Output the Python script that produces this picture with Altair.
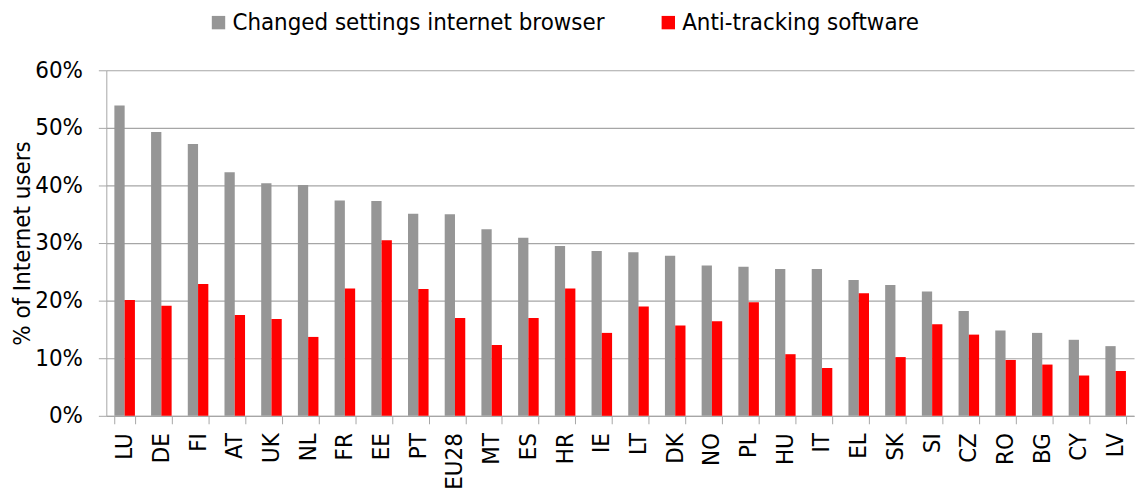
import altair as alt
import pandas as pd

countries = ["LU", "DE", "FI", "AT", "UK", "NL", "FR", "EE", "PT", "EU28", "MT", "ES", "HR", "IE",
             "LT", "DK", "NO", "PL", "HU", "IT", "EL", "SK", "SI", "CZ", "RO", "BG", "CY", "LV"]
changed_settings = [53.9, 49.3, 47.2, 42.3, 40.4, 40.1, 37.4, 37.3, 35.1, 35.0, 32.4, 30.9, 29.5, 28.6,
                    28.4, 27.8, 26.1, 25.9, 25.5, 25.5, 23.6, 22.7, 21.6, 18.2, 14.8, 14.4, 13.2, 12.1]
anti_tracking = [20.1, 19.1, 22.9, 17.5, 16.8, 13.7, 22.1, 30.5, 22.0, 17.0, 12.3, 17.0, 22.1, 14.4,
                 19.0, 15.7, 16.4, 19.7, 10.7, 8.3, 21.3, 10.2, 15.9, 14.1, 9.7, 8.9, 7.0, 7.8]
series = ["Changed settings internet browser", "Anti-tracking software"]
colors = ["#969696", "#ff0000"]
y_ticks = [0, 10, 20, 30, 40, 50, 60]

rows = []
for c, a, b in zip(countries, changed_settings, anti_tracking):
    rows.append({"country": c, "series": series[0], "value": a})
    rows.append({"country": c, "series": series[1], "value": b})
df = pd.DataFrame(rows)

FONT = "Liberation Sans Narrow, DejaVu Sans Condensed, Arial Narrow, sans-serif"
GRID = "#a6a6a6"

chart = alt.Chart(df).mark_bar().encode(
    x=alt.X("country:N", sort=countries,
            scale=alt.Scale(paddingInner=0.44, paddingOuter=0.22),
            axis=alt.Axis(title=None, labelAngle=-90, labelFontSize=24, labelFont=FONT,
                          labelColor="black", labelPadding=9, tickSize=8, tickBand="extent",
                          tickColor=GRID, domainColor=GRID, grid=False)),
    xOffset=alt.XOffset("series:N", sort=series),
    y=alt.Y("value:Q", scale=alt.Scale(domain=[0, 60], nice=False),
            axis=alt.Axis(values=y_ticks, labelExpr="datum.value + '%'", title="% of Internet users",
                          titleFontSize=24, titleFont=FONT, titleFontWeight="normal", titleColor="black",
                          titlePadding=0, labelFontSize=24, labelFont=FONT, labelColor="black",
                          labelPadding=16, tickSize=8, tickColor=GRID, domainColor=GRID,
                          gridColor=GRID, gridWidth=1.2)),
    color=alt.Color("series:N", sort=series,
                    scale=alt.Scale(domain=series, range=colors),
                    legend=alt.Legend(title=None, orient="none", legendX=101, legendY=-60,
                                      direction="horizontal", symbolType="square", symbolSize=182,
                                      symbolStrokeWidth=0, labelFontSize=24, labelFont=FONT,
                                      labelColor="black", labelOffset=2, columnPadding=52,
                                      padding=0, labelLimit=1000)),
).properties(
    width=1035, height=348,
    autosize=alt.AutoSizeParams(type="none"),
    padding={"left": 99, "top": 61, "right": 1, "bottom": 75},
).configure_view(stroke=None)

chart.save("out.html", embed_options={"renderer": "svg", "actions": False})
